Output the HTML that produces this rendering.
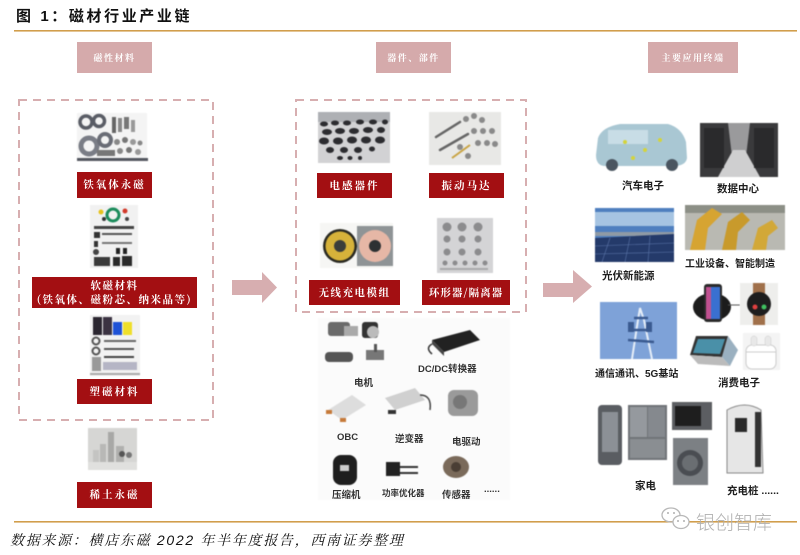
<!DOCTYPE html>
<html><head><meta charset="utf-8">
<style>
html,body{margin:0;padding:0;background:#fff;}
body{width:800px;height:555px;position:relative;overflow:hidden;font-family:"Liberation Sans","Noto Sans CJK SC",sans-serif;}
.a{position:absolute;}
.hdr{position:absolute;background:#d5aaab;color:#fff;font-size:9px;letter-spacing:1.5px;display:flex;align-items:center;justify-content:center;font-family:"Noto Serif CJK SC","Noto Sans CJK SC",serif;font-weight:bold;}
.red{position:absolute;background:#a30f12;color:#fff;font-size:10.5px;letter-spacing:2px;display:flex;align-items:center;justify-content:center;font-weight:bold;text-align:center;line-height:14px;font-family:"Noto Serif CJK SC","Noto Sans CJK SC",serif;}
.blk{position:absolute;color:#1e1e1e;font-size:10.5px;font-weight:bold;white-space:nowrap;font-family:"Liberation Sans","Noto Sans CJK SC",sans-serif;}
.sm{position:absolute;color:#333;font-size:9.5px;font-weight:bold;white-space:nowrap;font-family:"Liberation Sans","Noto Sans CJK SC",sans-serif;}
svg .ph{filter:blur(0.4px);}
</style></head><body>

<div class="a" style="left:16px;top:5px;font-size:15px;font-weight:bold;letter-spacing:2.6px;color:#111;font-family:'Liberation Sans','Noto Sans CJK SC',sans-serif;white-space:nowrap;">图 1：磁材行业产业链</div>

<svg class="a" style="left:0;top:0" width="800" height="555" viewBox="0 0 800 555">
  <rect x="14" y="30" width="783" height="1.6" fill="#d19e4c"/>
  <rect x="14" y="521" width="783" height="1.6" fill="#d19e4c"/>

  <rect x="19" y="100" width="194" height="320" fill="none" stroke="#d7aeb0" stroke-width="2" stroke-dasharray="8 6"/>
  <rect x="296" y="100" width="230" height="212" fill="none" stroke="#d7aeb0" stroke-width="2" stroke-dasharray="8 6"/>

  <polygon points="232,280 262,280 262,272 277,287.5 262,303 262,295 232,295" fill="#d7aeb0"/>
  <polygon points="543,283 573,283 573,270 592,286.5 573,303 573,297 543,297" fill="#d7aeb0"/>

  <g class="ph">
    <rect x="77" y="113" width="70" height="47" fill="#f4f4f4"/>
    <circle cx="86" cy="122" r="6" fill="none" stroke="#5a5d66" stroke-width="3.5"/>
    <circle cx="99" cy="121" r="5.5" fill="none" stroke="#5a5d66" stroke-width="3.5"/>
    <circle cx="89" cy="146" r="8" fill="none" stroke="#7a7d86" stroke-width="5"/>
    <circle cx="105" cy="140" r="6" fill="none" stroke="#6a6d76" stroke-width="4"/>
    <rect x="97" y="150" width="18" height="6" fill="#777"/>
    <rect x="112" y="117" width="4" height="16" fill="#666"/>
    <rect x="118" y="118" width="4" height="14" fill="#888"/>
    <rect x="124" y="117" width="5" height="12" fill="#777"/>
    <rect x="131" y="120" width="4" height="12" fill="#999"/>
    <circle cx="117" cy="142" r="3" fill="#888"/>
    <circle cx="125" cy="140" r="3" fill="#777"/>
    <circle cx="133" cy="142" r="3" fill="#999"/>
    <circle cx="140" cy="143" r="2.5" fill="#888"/>
    <circle cx="120" cy="151" r="3" fill="#888"/>
    <circle cx="129" cy="150" r="3" fill="#777"/>
    <circle cx="138" cy="152" r="3" fill="#999"/>
    <rect x="77" y="158" width="71" height="3" fill="#545760"/>
  </g>

  <g class="ph">
    <rect x="90" y="205" width="48" height="63" fill="#f1f1f1"/>
    <circle cx="113" cy="215" r="6" fill="none" stroke="#1c8c5c" stroke-width="3"/>
    <circle cx="101" cy="212" r="2.5" fill="#e6c21d"/>
    <circle cx="125" cy="211" r="2.5" fill="#d23a2a"/>
    <circle cx="104" cy="219" r="2" fill="#333"/>
    <circle cx="127" cy="219" r="2" fill="#444"/>
    <rect x="94" y="226" width="40" height="3" fill="#444"/>
    <rect x="94" y="232" width="6" height="6" fill="#333"/>
    <rect x="102" y="233" width="30" height="2" fill="#555"/>
    <rect x="94" y="241" width="4" height="6" fill="#333"/>
    <rect x="102" y="242" width="30" height="2" fill="#777"/>
    <circle cx="96" cy="252" r="3" fill="#444"/>
    <rect x="116" y="248" width="4" height="6" fill="#222"/>
    <rect x="123" y="248" width="4" height="6" fill="#222"/>
    <rect x="94" y="257" width="16" height="9" fill="#3a3a3a"/>
    <rect x="113" y="257" width="7" height="9" fill="#2a2a2a"/>
    <rect x="122" y="256" width="10" height="10" fill="#2a2a2a"/>
  </g>

  <g class="ph">
    <rect x="90" y="315" width="50" height="61" fill="#f2f2f2"/>
    <rect x="93" y="317" width="9" height="18" fill="#2a2630"/>
    <rect x="103" y="317" width="9" height="18" fill="#3b3342"/>
    <rect x="113" y="322" width="9" height="13" fill="#1e52d6"/>
    <rect x="123" y="322" width="9" height="13" fill="#efdf2a"/>
    <circle cx="96" cy="341" r="3.5" fill="none" stroke="#555" stroke-width="2"/>
    <circle cx="96" cy="351" r="3.5" fill="none" stroke="#555" stroke-width="2"/>
    <rect x="92" y="357" width="9" height="14" fill="#999"/>
    <rect x="104" y="340" width="32" height="2" fill="#666"/>
    <rect x="104" y="348" width="30" height="2" fill="#555"/>
    <rect x="104" y="356" width="30" height="2" fill="#444"/>
    <rect x="103" y="362" width="34" height="8" fill="#b5b5c5"/>
    <rect x="90" y="373" width="50" height="2" fill="#aaa"/>
  </g>

  <g class="ph">
    <rect x="88" y="428" width="49" height="42" fill="#d6d6d4"/>
    <rect x="108" y="432" width="6" height="30" fill="#a8a8a6"/>
    <rect x="100" y="444" width="6" height="18" fill="#b8b8b6"/>
    <rect x="93" y="450" width="6" height="12" fill="#c4c4c2"/>
    <rect x="116" y="446" width="8" height="16" fill="#b0b0ae"/>
    <circle cx="122" cy="454" r="3" fill="#555"/>
    <circle cx="129" cy="455" r="3" fill="#777"/>
    <rect x="88" y="462" width="49" height="8" fill="#e0e0de"/>
  </g>

  <g class="ph">
    <rect x="318" y="112" width="72" height="51" fill="#d2d2d4"/>
    <rect x="318" y="112" width="72" height="10" fill="#aeb0b4"/>
    <g fill="#2c2c30">
      <ellipse cx="324" cy="124" rx="4" ry="2.5"/><ellipse cx="335" cy="123" rx="4" ry="2.5"/><ellipse cx="347" cy="123" rx="4" ry="2.5"/><ellipse cx="360" cy="122" rx="4" ry="2.5"/><ellipse cx="373" cy="122" rx="4" ry="2.5"/><ellipse cx="385" cy="122" rx="3" ry="2.5"/>
      <ellipse cx="327" cy="132" rx="5" ry="3"/><ellipse cx="340" cy="131" rx="5" ry="3"/><ellipse cx="354" cy="131" rx="5" ry="3"/><ellipse cx="368" cy="130" rx="5" ry="3"/><ellipse cx="381" cy="130" rx="4" ry="3"/>
      <ellipse cx="324" cy="141" rx="5" ry="3.5"/><ellipse cx="338" cy="141" rx="5" ry="3.5"/><ellipse cx="352" cy="140" rx="5" ry="3.5"/><ellipse cx="366" cy="140" rx="5" ry="3.5"/><ellipse cx="380" cy="140" rx="5" ry="3.5"/>
      <ellipse cx="330" cy="150" rx="4" ry="3"/><ellipse cx="344" cy="150" rx="4" ry="3"/><ellipse cx="358" cy="150" rx="4" ry="3"/><ellipse cx="372" cy="149" rx="3" ry="2.5"/>
      <ellipse cx="340" cy="158" rx="3" ry="2"/><ellipse cx="350" cy="158" rx="2.5" ry="2"/><ellipse cx="360" cy="158" rx="2" ry="2"/>
    </g>
  </g>

  <g class="ph">
    <rect x="429" y="112" width="72" height="53" fill="#e8e8e6"/>
    <g stroke="#666" stroke-width="2.5" stroke-linecap="round">
      <line x1="436" y1="137" x2="460" y2="122"/>
      <line x1="440" y1="150" x2="468" y2="134"/>
    </g>
    <line x1="452" y1="158" x2="470" y2="145" stroke="#c9a443" stroke-width="2"/>
    <g fill="#8a8a8a">
      <circle cx="466" cy="119" r="3"/><circle cx="474" cy="116" r="3"/><circle cx="482" cy="120" r="3"/>
      <circle cx="474" cy="131" r="3"/><circle cx="483" cy="131" r="3"/><circle cx="492" cy="131" r="3"/>
      <circle cx="478" cy="143" r="3"/><circle cx="487" cy="143" r="3"/><circle cx="495" cy="144" r="3"/>
      <circle cx="468" cy="156" r="3"/><circle cx="460" cy="147" r="3"/>
    </g>
  </g>

  <g class="ph">
    <rect x="320" y="223" width="73" height="45" fill="#f6f6f4"/>
    <circle cx="340" cy="246" r="17" fill="#2a2a22"/>
    <circle cx="340" cy="246" r="14.5" fill="#d6b23a"/>
    <circle cx="340" cy="246" r="6" fill="#3a3d3a"/>
    <rect x="357" y="226" width="36" height="40" fill="#8f9496"/>
    <circle cx="375" cy="246" r="16" fill="#e6b7a6"/>
    <circle cx="375" cy="246" r="6" fill="#2d3032"/>
  </g>

  <g class="ph">
    <rect x="437" y="218" width="56" height="55" fill="#d4d4d6"/>
    <g fill="#8c8c8e">
      <circle cx="447" cy="227" r="4.5"/><circle cx="462" cy="227" r="4.5"/><circle cx="478" cy="227" r="4.5"/>
      <circle cx="447" cy="239" r="3.5"/><circle cx="462" cy="239" r="3.5"/><circle cx="478" cy="239" r="3.5"/>
      <circle cx="447" cy="252" r="3.5"/><circle cx="462" cy="252" r="3.5"/><circle cx="478" cy="252" r="3.5"/>
      <circle cx="445" cy="263" r="2.5"/><circle cx="455" cy="263" r="2.5"/><circle cx="465" cy="263" r="2.5"/><circle cx="475" cy="263" r="2.5"/><circle cx="485" cy="263" r="2.5"/>
    </g>
    <rect x="440" y="268" width="48" height="2" fill="#aaa"/>
  </g>

  <g class="ph">
    <rect x="318" y="318" width="192" height="182" fill="#fbfbfb"/>
    <rect x="328" y="322" width="22" height="14" rx="3" fill="#6a6a6a"/>
    <rect x="344" y="326" width="14" height="10" fill="#aaa"/>
    <rect x="362" y="322" width="16" height="16" rx="3" fill="#333"/>
    <circle cx="373" cy="332" r="6" fill="#bbb"/>
    <rect x="325" y="352" width="28" height="10" rx="4" fill="#555"/>
    <rect x="366" y="350" width="18" height="10" fill="#777"/>
    <rect x="374" y="344" width="3" height="8" fill="#555"/>
    <polygon points="432,340 470,330 480,340 444,352" fill="#222"/>
    <polygon points="432,340 444,352 444,356 432,344" fill="#444"/>
    <path d="M432,344 Q425,348 432,354" stroke="#333" fill="none" stroke-width="1.5"/>
    <polygon points="328,410 352,395 366,405 342,420" fill="#ddd"/>
    <rect x="326" y="410" width="6" height="4" fill="#c67a3a"/>
    <rect x="340" y="418" width="6" height="4" fill="#c67a3a"/>
    <polygon points="385,398 415,388 425,400 395,410" fill="#d0d0d0"/>
    <path d="M420,395 Q432,395 430,410" stroke="#444" fill="none" stroke-width="1.5"/>
    <rect x="388" y="410" width="8" height="4" fill="#333"/>
    <rect x="448" y="390" width="30" height="26" rx="6" fill="#9a9a9a"/>
    <circle cx="460" cy="402" r="7" fill="#777"/>
    <rect x="333" y="455" width="24" height="30" rx="8" fill="#1e1e1e"/>
    <rect x="340" y="465" width="9" height="6" fill="#ccc"/>
    <rect x="386" y="462" width="14" height="14" fill="#222"/>
    <rect x="400" y="466" width="18" height="2" fill="#333"/>
    <rect x="400" y="472" width="18" height="2" fill="#333"/>
    <ellipse cx="456" cy="467" rx="13" ry="11" fill="#7a6a5a"/>
    <circle cx="456" cy="467" r="5" fill="#4a3e34"/>
  </g>

  <g class="ph">
    <path d="M596,155 L598,138 Q602,127 620,124 L668,124 Q682,128 686,142 L687,158 Q686,165 676,166 L604,166 Q596,165 596,155 Z" fill="#a9c7d3"/>
    <rect x="608" y="130" width="40" height="14" fill="#c8dde6"/>
    <circle cx="612" cy="165" r="6" fill="#4a5560"/>
    <circle cx="672" cy="165" r="6" fill="#4a5560"/>
    <g fill="#d4d43a"><circle cx="625" cy="142" r="2"/><circle cx="645" cy="150" r="2"/><circle cx="660" cy="140" r="2"/><circle cx="633" cy="158" r="2"/></g>
  </g>
  <g class="ph">
    <rect x="700" y="123" width="78" height="54" fill="#3a3a3c"/>
    <polygon points="728,123 750,123 745,165 733,165" fill="#9a9a9c"/>
    <polygon points="733,150 745,150 760,177 718,177" fill="#cfcfd0"/>
    <rect x="704" y="128" width="20" height="40" fill="#2a2a2c"/>
    <rect x="754" y="128" width="20" height="40" fill="#2a2a2c"/>
  </g>
  <g class="ph">
    <rect x="595" y="208" width="79" height="54" fill="#4f7fbf"/>
    <rect x="595" y="212" width="79" height="14" fill="#a6c4e2"/>
    <rect x="595" y="232" width="79" height="4" fill="#8f9aa5"/>
    <polygon points="595,238 674,234 674,262 595,262" fill="#243a6a"/>
    <g stroke="#5a74a8" stroke-width="0.6">
      <line x1="595" y1="246" x2="674" y2="243"/><line x1="595" y1="254" x2="674" y2="252"/>
      <line x1="610" y1="238" x2="602" y2="262"/><line x1="630" y1="237" x2="625" y2="262"/><line x1="650" y1="236" x2="648" y2="262"/>
    </g>
  </g>
  <g class="ph">
    <rect x="685" y="205" width="100" height="45" fill="#b9b9b2"/>
    <rect x="685" y="205" width="100" height="8" fill="#8c8f86"/>
    <path d="M690,250 L697,220 L712,208 L722,214 L708,228 L705,250 Z" fill="#d6a432"/>
    <path d="M722,250 L728,222 L742,212 L750,220 L738,232 L736,250 Z" fill="#c89a2c"/>
    <path d="M752,250 L758,228 L772,220 L778,228 L768,236 L766,250 Z" fill="#d2a838"/>
  </g>
  <g class="ph">
    <ellipse cx="712" cy="307" rx="19" ry="14" fill="#1c1c1c"/>
    <rect x="704" y="284" width="18" height="38" rx="3" fill="#2a2a2a"/>
    <rect x="706" y="287" width="14" height="32" fill="#c05090"/>
    <rect x="711" y="287" width="9" height="32" fill="#3a70d0"/>
    <line x1="728" y1="305" x2="740" y2="305" stroke="#555" stroke-width="1"/>
  </g>
  <g class="ph">
    <rect x="740" y="283" width="38" height="42" fill="#eeeeec"/>
    <rect x="753" y="283" width="12" height="42" fill="#a0704a"/>
    <circle cx="759" cy="304" r="12" fill="#1e1e1e"/>
    <circle cx="755" cy="307" r="2.5" fill="#e04040"/>
    <circle cx="764" cy="307" r="2.5" fill="#40c060"/>
  </g>
  <g class="ph">
    <rect x="600" y="302" width="77" height="57" fill="#7ea2d8"/>
    <path d="M632,359 L638,320 L640,308 L644,320 L652,359" fill="none" stroke="#e6eef8" stroke-width="2"/>
    <path d="M630,330 L650,330 M628,340 L654,342 M634,318 L648,318" stroke="#3a5a90" stroke-width="2.5"/>
    <rect x="628" y="322" width="6" height="10" fill="#3a5a90"/>
    <rect x="646" y="322" width="6" height="10" fill="#3a5a90"/>
  </g>
  <g class="ph">
    <polygon points="690,355 696,336 728,336 722,357" fill="#333"/>
    <polygon points="693,353 698,339 725,339 720,354" fill="#4a90a8"/>
    <polygon points="722,357 728,336 738,350 730,366" fill="#9ab0c0"/>
    <polygon points="690,355 722,357 730,366 698,364" fill="#bbb"/>
  </g>
  <g class="ph">
    <rect x="743" y="333" width="37" height="37" fill="#f4f4f4"/>
    <rect x="746" y="345" width="30" height="24" rx="6" fill="#fff" stroke="#ccc"/>
    <line x1="746" y1="352" x2="776" y2="352" stroke="#ccc"/>
    <rect x="751" y="336" width="6" height="10" rx="3" fill="#e8e8e8" stroke="#ccc" stroke-width="0.5"/>
    <rect x="765" y="336" width="6" height="10" rx="3" fill="#e8e8e8" stroke="#ccc" stroke-width="0.5"/>
  </g>
  <g class="ph">
    <rect x="598" y="405" width="24" height="60" rx="4" fill="#5a5d62"/>
    <rect x="602" y="412" width="16" height="40" fill="#8c9096"/>
    <rect x="628" y="405" width="39" height="55" fill="#707478"/>
    <rect x="630" y="407" width="17" height="30" fill="#95999e"/>
    <rect x="648" y="407" width="17" height="30" fill="#85898e"/>
    <rect x="630" y="439" width="35" height="19" fill="#8a8e92"/>
    <rect x="672" y="402" width="40" height="28" fill="#5c5e62"/>
    <rect x="675" y="406" width="26" height="20" fill="#1e1e1e"/>
    <rect x="673" y="438" width="35" height="47" fill="#7c8084"/>
    <circle cx="690" cy="463" r="13" fill="#4a4d52"/>
    <circle cx="690" cy="463" r="8" fill="#6a6e72"/>
    <path d="M727,473 L727,410 Q745,400 761,410 L763,473 Z" fill="#e6e6e6" stroke="#888" stroke-width="1"/>
    <rect x="735" y="418" width="12" height="14" fill="#2a2a2a"/>
    <rect x="755" y="412" width="6" height="55" fill="#333"/>
  </g>

  <g fill="none" stroke="#b8b8b8" stroke-width="1.3">
    <ellipse cx="671" cy="515" rx="9" ry="7"/>
    <ellipse cx="681" cy="522" rx="8" ry="6.5" fill="#fff"/>
  </g>
  <g fill="#b0b0b0"><circle cx="668" cy="513" r="1"/><circle cx="674" cy="513" r="1"/><circle cx="678" cy="521" r="1"/><circle cx="684" cy="521" r="1"/></g>
</svg>

<div class="hdr" style="left:77px;top:42px;width:75px;height:31px;">磁性材料</div>
<div class="hdr" style="left:376px;top:42px;width:75px;height:31px;">器件、部件</div>
<div class="hdr" style="left:648px;top:42px;width:90px;height:31px;">主要应用终端</div>

<div class="red" style="left:77px;top:172px;width:75px;height:26px;">铁氧体永磁</div>
<div class="red" style="left:32px;top:277px;width:165px;height:31px;letter-spacing:1.5px;">软磁材料<br>(铁氧体、磁粉芯、纳米晶等)</div>
<div class="red" style="left:77px;top:379px;width:75px;height:25px;">塑磁材料</div>
<div class="red" style="left:77px;top:482px;width:75px;height:26px;">稀土永磁</div>

<div class="red" style="left:317px;top:173px;width:75px;height:25px;">电感器件</div>
<div class="red" style="left:429px;top:173px;width:75px;height:25px;">振动马达</div>
<div class="red" style="left:309px;top:280px;width:91px;height:25px;letter-spacing:1.5px;">无线充电模组</div>
<div class="red" style="left:422px;top:280px;width:88px;height:25px;letter-spacing:1px;">环形器/隔离器</div>

<div class="sm" style="left:354px;top:375px;">电机</div>
<div class="sm" style="left:418px;top:361px;">DC/DC转换器</div>
<div class="sm" style="left:337px;top:432px;">OBC</div>
<div class="sm" style="left:395px;top:431px;">逆变器</div>
<div class="sm" style="left:452px;top:434px;">电驱动</div>
<div class="sm" style="left:332px;top:487px;">压缩机</div>
<div class="sm" style="left:382px;top:487px;font-size:8.5px;">功率优化器</div>
<div class="sm" style="left:442px;top:487px;">传感器</div>
<div class="sm" style="left:484px;top:484px;">......</div>

<div class="blk" style="left:622px;top:178px;">汽车电子</div>
<div class="blk" style="left:717px;top:181px;">数据中心</div>
<div class="blk" style="left:602px;top:268px;">光伏新能源</div>
<div class="blk" style="left:685px;top:255px;font-size:10px;">工业设备、智能制造</div>
<div class="blk" style="left:595px;top:365px;font-size:10px;">通信通讯、5G基站</div>
<div class="blk" style="left:718px;top:375px;">消费电子</div>
<div class="blk" style="left:635px;top:478px;">家电</div>
<div class="blk" style="left:727px;top:483px;">充电桩 ......</div>

<div class="a" style="left:10px;top:530px;font-size:14px;font-style:italic;color:#111;white-space:nowrap;letter-spacing:1.7px;font-family:'Liberation Sans','Noto Serif CJK SC',serif;">数据来源：横店东磁 2022 年半年度报告，西南证券整理</div>

<div class="a" style="left:696px;top:508px;font-size:19px;color:#b0b0b0;white-space:nowrap;font-family:'Liberation Sans','Noto Sans CJK SC',sans-serif;font-weight:300;">银创智库</div>

</body></html>
